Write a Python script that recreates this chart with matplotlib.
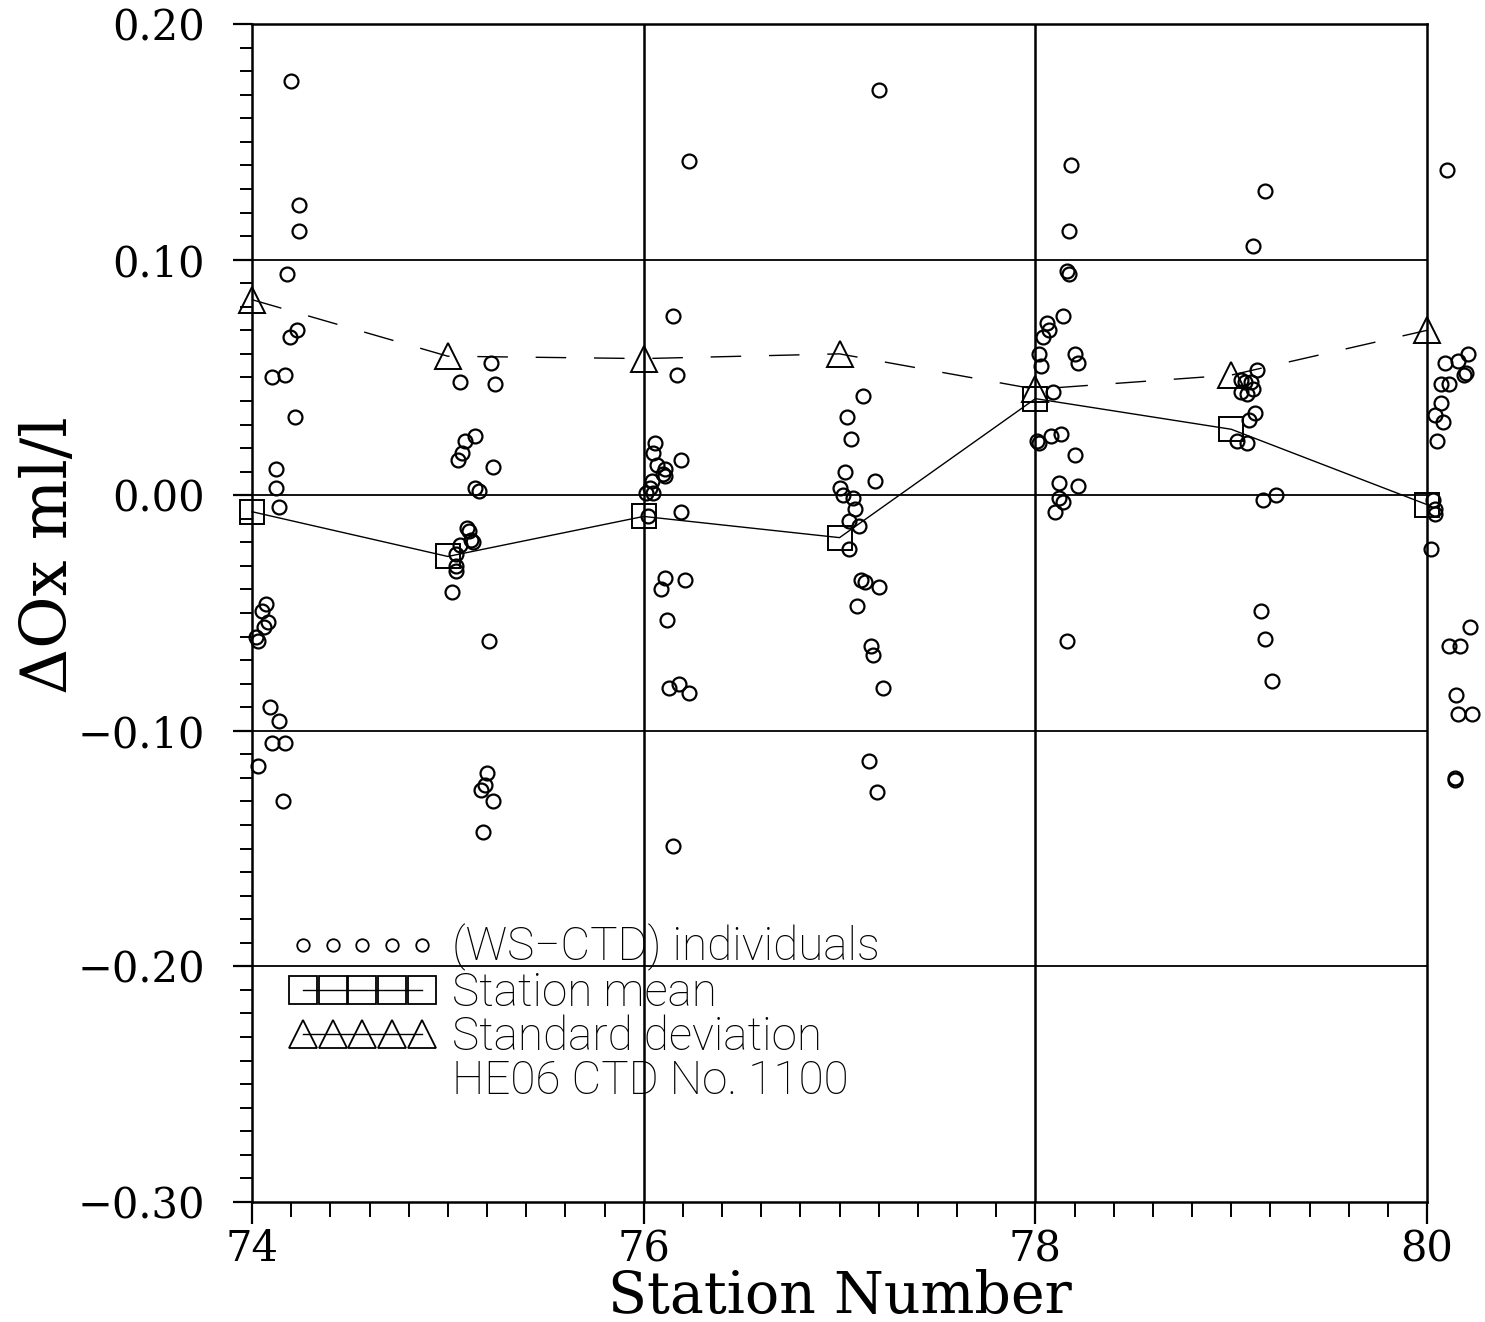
import numpy as np
import matplotlib
matplotlib.use("Agg")
import matplotlib.pyplot as plt
from matplotlib.lines import Line2D
from matplotlib.ticker import MultipleLocator, FuncFormatter

# Werte
stations = [74, 75, 76, 77, 78, 79, 80]
station_mean = [-0.007, -0.026, -0.009, -0.018, 0.041, 0.028, -0.004]
station_std = [0.083, 0.059, 0.058, 0.060, 0.045, 0.051, 0.070]

# einzelne (WS-CTD) Differenzen, x leicht versetzt wie im Original
x74 = [74.20, 74.24, 74.24, 74.18, 74.23, 74.195, 74.17, 74.10, 74.22, 74.12, 74.12, 74.14,
       74.07, 74.05, 74.08, 74.06, 74.03, 74.02, 74.09, 74.14, 74.10, 74.17, 74.03, 74.16]
y74 = [0.176, 0.123, 0.112, 0.094, 0.070, 0.067, 0.051, 0.050, 0.033, 0.011, 0.003, -0.005,
       -0.046, -0.049, -0.054, -0.056, -0.062, -0.060, -0.090, -0.096, -0.105, -0.105, -0.115, -0.130]

x75 = [75.06, 75.22, 75.24, 75.14, 75.09, 75.07, 75.05, 75.23, 75.14, 75.16, 75.10, 75.11, 75.12,
       75.13, 75.06, 75.04, 75.04, 75.04, 75.02, 75.21, 75.20, 75.19, 75.17, 75.23, 75.18]
y75 = [0.048, 0.056, 0.047, 0.025, 0.023, 0.018, 0.015, 0.012, 0.003, 0.002, -0.014, -0.015, -0.019,
       -0.020, -0.021, -0.025, -0.030, -0.032, -0.041, -0.062, -0.118, -0.123, -0.125, -0.130, -0.143]

x76 = [76.23, 76.15, 76.17, 76.06, 76.05, 76.19, 76.07, 76.11, 76.10, 76.11, 76.04, 76.03,
       76.01, 76.05, 76.02, 76.19, 76.11, 76.21, 76.09, 76.12, 76.13, 76.18, 76.23, 76.15]
y76 = [0.142, 0.076, 0.051, 0.022, 0.018, 0.015, 0.013, 0.011, 0.009, 0.008, 0.006, 0.003,
       0.001, 0.001, -0.009, -0.007, -0.035, -0.036, -0.040, -0.053, -0.082, -0.080, -0.084, -0.149]

x77 = [77.20, 77.12, 77.04, 77.06, 77.03, 77.18, 77.00, 77.02, 77.07, 77.08, 77.05,
       77.10, 77.05, 77.11, 77.13, 77.20, 77.09, 77.16, 77.17, 77.22, 77.15, 77.19]
y77 = [0.172, 0.042, 0.033, 0.024, 0.010, 0.006, 0.003, 0.000, -0.001, -0.006, -0.011,
       -0.013, -0.023, -0.036, -0.037, -0.039, -0.047, -0.064, -0.068, -0.082, -0.113, -0.126]

x78 = [78.18, 78.17, 78.16, 78.17, 78.14, 78.06, 78.07, 78.04, 78.02, 78.03, 78.20, 78.22,
       78.09, 78.01, 78.02, 78.08, 78.13, 78.20, 78.12, 78.22, 78.12, 78.14, 78.10, 78.16]
y78 = [0.140, 0.112, 0.095, 0.094, 0.076, 0.073, 0.070, 0.067, 0.060, 0.055, 0.060, 0.056,
       0.044, 0.023, 0.022, 0.025, 0.026, 0.017, 0.005, 0.004, -0.001, -0.003, -0.007, -0.062]

x79 = [79.17, 79.11, 79.13, 79.05, 79.07, 79.10, 79.05, 79.08, 79.11, 79.12, 79.09,
       79.03, 79.08, 79.16, 79.23, 79.15, 79.17, 79.21]
y79 = [0.129, 0.106, 0.053, 0.049, 0.048, 0.048, 0.044, 0.043, 0.045, 0.035, 0.032,
       0.023, 0.022, -0.002, 0.000, -0.049, -0.061, -0.079]

x80 = [80.10, 80.21, 80.16, 80.09, 80.19, 80.20, 80.07, 80.11, 80.07, 80.04, 80.08, 80.05,
       80.03, 80.04, 80.04, 80.02, 80.22, 80.11, 80.17, 80.15, 80.16, 80.23, 80.14, 80.14]
y80 = [0.138, 0.060, 0.057, 0.056, 0.051, 0.052, 0.047, 0.047, 0.039, 0.034, 0.031, 0.023,
       -0.002, -0.006, -0.008, -0.023, -0.056, -0.064, -0.064, -0.085, -0.093, -0.093, -0.120, -0.121]

x_ind = x74 + x75 + x76 + x77 + x78 + x79 + x80
y_ind = y74 + y75 + y76 + y77 + y78 + y79 + y80

serif = "DejaVu Serif"
sans = ["Roboto", "DejaVu Sans"]

fig = plt.figure(figsize=(14.85, 13.22), dpi=100)
ax = fig.add_axes([0.1697, 0.0908, 0.7913, 0.891])

ax.plot(x_ind, y_ind, linestyle="none", marker="o", markersize=10, markerfacecolor="none",
        markeredgecolor="black", markeredgewidth=1.6, clip_on=False, zorder=3)
ax.plot(stations, station_mean, color="black", linewidth=1.0, marker="s", markersize=17,
        markerfacecolor="none", markeredgecolor="black", markeredgewidth=1.4, clip_on=False, zorder=4)
ax.plot(stations, station_std, color="black", linewidth=1.0, linestyle=(0, (22, 20)), marker="^",
        markersize=19, markerfacecolor="none", markeredgecolor="black", markeredgewidth=1.4,
        clip_on=False, zorder=4)

ax.set_xlim(74, 80)
ax.set_ylim(-0.30, 0.20)

# Gitter nur an den Hauptwerten
for yv in [0.1, 0.0, -0.1, -0.2]:
    ax.axhline(yv, color="black", linewidth=1.3, zorder=1)
for xv in [76, 78]:
    ax.axvline(xv, color="black", linewidth=1.8, zorder=1)

for s in ax.spines.values():
    s.set_linewidth(1.8)

ax.xaxis.set_major_locator(MultipleLocator(2))
ax.xaxis.set_minor_locator(MultipleLocator(0.2))
ax.yaxis.set_major_locator(MultipleLocator(0.1))
ax.yaxis.set_minor_locator(MultipleLocator(0.01))
ax.yaxis.set_major_formatter(FuncFormatter(lambda v, p: f"{v:.2f}".replace("-", "\u2212")))

ax.tick_params(axis="both", which="both", direction="out", top=False, right=False)
ax.tick_params(axis="x", which="major", length=16, width=1.6, pad=3)
ax.tick_params(axis="x", which="minor", length=11, width=1.4)
ax.tick_params(axis="y", which="major", length=14, width=1.6, pad=20)
ax.tick_params(axis="y", which="minor", length=9, width=1.4)

for lab in ax.get_xticklabels() + ax.get_yticklabels():
    lab.set_fontfamily(serif)
    lab.set_fontsize(30)

ax.set_xlabel("Station Number", fontfamily=serif, fontsize=41)
ax.xaxis.label.set_verticalalignment("baseline")
ax.xaxis.set_label_coords(0.5, -0.094)
ax.set_ylabel("ΔOx ml/l", fontfamily=serif, fontsize=46)
ax.yaxis.set_label_coords(-0.146, 0.549)

handles = [
    Line2D([], [], linestyle="none", marker="o", markersize=9, markerfacecolor="none",
           markeredgecolor="black", markeredgewidth=1.3),
    Line2D([], [], color="black", linewidth=1.0, marker="s", markersize=20, markerfacecolor="none",
           markeredgecolor="black", markeredgewidth=1.3),
    Line2D([], [], color="black", linewidth=1.0, marker="^", markersize=20, markerfacecolor="none",
           markeredgecolor="black", markeredgewidth=1.3),
    Line2D([], [], linestyle="none"),
]
labels = ["(WS−CTD) individuals", "Station mean", "Standard deviation", "HE06 CTD No. 1100"]
ax.legend(handles, labels, loc="upper left", bbox_to_anchor=(0.032, 0.236), numpoints=5,
          handlelength=3.18, handletextpad=0.37, labelspacing=0.0, borderpad=0, borderaxespad=0,
          frameon=False, prop={"family": sans, "size": 33, "weight": "light"})

fig.savefig("out.png", dpi=100)
